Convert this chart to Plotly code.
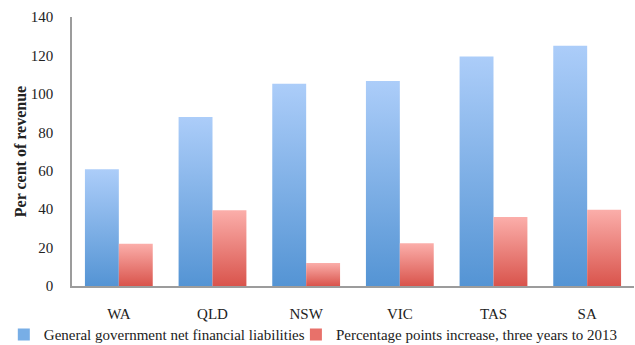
import plotly.graph_objects as go

# Net financial liabilities by state, per cent of revenue
states = ["WA", "QLD", "NSW", "VIC", "TAS", "SA"]
liabilities = [60.7, 88.0, 105.3, 106.7, 119.4, 125.1]
increase = [22.0, 39.4, 12.0, 22.2, 35.9, 39.7]
y_ticks = [0, 20, 40, 60, 80, 100, 120, 140]

series = [
    ("General government net financial liabilities", liabilities,
     [[0, "#5494d4"], [1, "#accdf9"]], "#78aee6", -1, "legend"),
    ("Percentage points increase, three years to 2013", increase,
     [[0, "#d9544c"], [1, "#fbaeaa"]], "#e8716a", 0, "legend2"),
]

BAR_W = 0.362  # bar width in category units
FONT = "Liberation Serif, DejaVu Serif, serif"

fig = go.Figure()
for name, values, scale, swatch, side, leg in series:
    # each bar is its own filled polygon so the gradient runs base-to-top per bar
    for i, v in enumerate(values):
        x0 = i + side * BAR_W
        x1 = x0 + BAR_W
        fig.add_trace(go.Scatter(
            x=[x0, x0, x1, x1, x0],
            y=[0, v, v, 0, 0],
            mode="none",
            fill="toself",
            fillgradient=dict(type="vertical", colorscale=scale),
            legendgroup=name,
            showlegend=False,
            hoverinfo="skip",
        ))
    # legend swatch
    fig.add_trace(go.Bar(
        x=[None], y=[None], name=name, legendgroup=name, legend=leg,
        marker=dict(color=swatch, line=dict(width=0)),
    ))

legend_style = dict(
    orientation="h",
    xref="container", yref="container",
    xanchor="left",
    y=0.03, yanchor="middle",
    font=dict(size=15),
    itemwidth=30,
    bgcolor="rgba(0,0,0,0)",
)

fig.update_layout(
    width=635,
    height=345,
    margin=dict(l=72, r=1, t=17, b=59, autoexpand=False),
    plot_bgcolor="white",
    paper_bgcolor="white",
    font=dict(family=FONT, size=15, color="#222222"),
    showlegend=True,
    legend=dict(legend_style, x=0.006),
    legend2=dict(legend_style, x=0.466),
    xaxis=dict(
        range=[-0.5, 5.5],
        tickmode="array",
        tickvals=list(range(len(states))),
        ticktext=states,
        showgrid=False,
        zeroline=False,
        showline=True,
        linecolor="#9c9c9c",
        linewidth=1.5,
        ticks="",
        ticklabelstandoff=13,
        fixedrange=True,
    ),
    yaxis=dict(
        range=[0, 140],
        tickmode="array",
        tickvals=y_ticks,
        showgrid=False,
        zeroline=False,
        showline=True,
        linecolor="#9c9c9c",
        linewidth=1.5,
        ticks="",
        ticklabelstandoff=14,
        title=dict(text="<b>Per cent of revenue</b>", font=dict(size=16), standoff=0),
    ),
)

fig.write_html("out.html")
